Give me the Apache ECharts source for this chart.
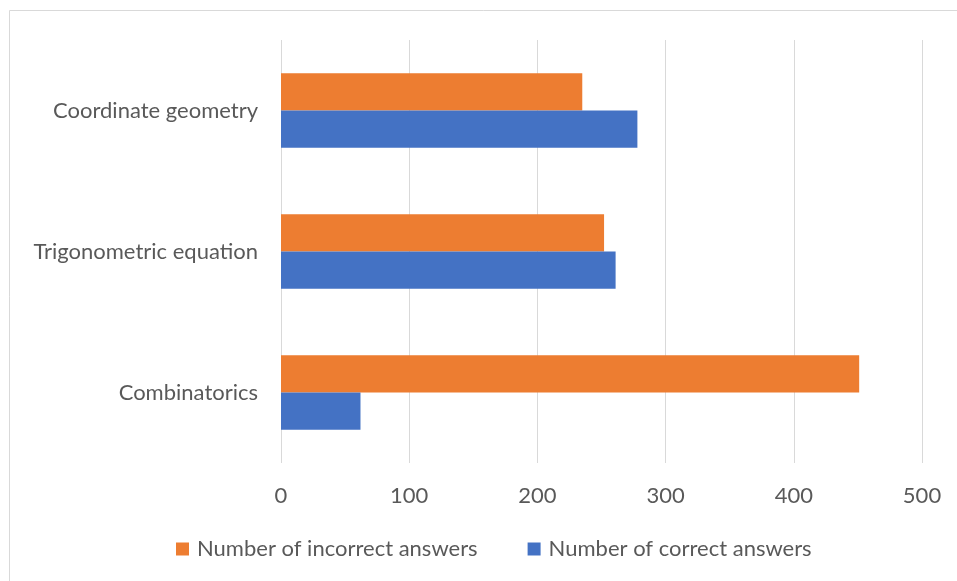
<!DOCTYPE html>
<html>
<head>
<meta charset="utf-8">
<script src="https://cdn.jsdelivr.net/npm/echarts@6/dist/echarts.min.js"></script>
<style>
  html, body { margin: 0; padding: 0; background: #fff; }
  #chart { width: 957px; height: 581px; }
</style>
</head>
<body>
<div id="chart"></div>
<script>
// Topics, listed bottom-to-top on the category axis
const topics = ['Combinatorics', 'Trigonometric equation', 'Coordinate geometry'];
const incorrectAnswers = [451, 252, 235];
const correctAnswers = [62, 261, 278];
const valueTicks = [0, 100, 200, 300, 400, 500];

const FONT = 'Lato, "Open Sans", sans-serif';
const SIZE = 22;
const TEXT = '#595959';

const chart = echarts.init(document.getElementById('chart'));
chart.setOption({
  animation: false,
  backgroundColor: '#fff',
  graphic: [{
    type: 'rect',
    shape: { x: 9.5, y: 10.5, width: 960, height: 600 },
    style: { fill: 'none', stroke: '#d9d9d9', lineWidth: 1 },
    silent: true
  }],
  grid: { left: 281, right: 35, top: 40, bottom: 118, containLabel: false },
  legend: {
    top: 533,
    left: 171,
    itemWidth: 13,
    itemHeight: 13,
    itemGap: 50,
    icon: 'rect',
    textStyle: { fontFamily: FONT, fontSize: SIZE, color: TEXT, padding: [0, 0, 0, 3] },
    data: ['Number of incorrect answers', 'Number of correct answers']
  },
  xAxis: {
    type: 'value',
    min: valueTicks[0],
    max: valueTicks[valueTicks.length - 1],
    interval: valueTicks[1] - valueTicks[0],
    axisLine: { show: false },
    axisTick: { show: false },
    splitLine: { lineStyle: { color: '#d9d9d9', width: 1 } },
    axisLabel: { fontFamily: FONT, fontSize: SIZE, color: TEXT, margin: 22 }
  },
  yAxis: {
    type: 'category',
    data: topics,
    axisLine: { show: false },
    axisTick: { show: false },
    axisLabel: { fontFamily: FONT, fontSize: SIZE, color: TEXT, margin: 23 }
  },
  series: [
    {
      name: 'Number of incorrect answers',
      type: 'bar',
      data: incorrectAnswers,
      itemStyle: { color: '#ED7D31' },
      barGap: '0%',
      barCategoryGap: '47%'
    },
    {
      name: 'Number of correct answers',
      type: 'bar',
      data: correctAnswers,
      itemStyle: { color: '#4472C4' },
      barGap: '0%',
      barCategoryGap: '47%'
    }
  ]
});
</script>
</body>
</html>
